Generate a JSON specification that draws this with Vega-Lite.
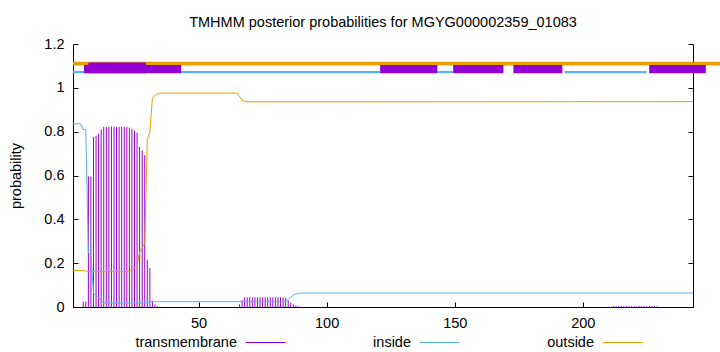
{
  "$schema": "https://vega.github.io/schema/vega-lite/v6.json",
  "width": 620,
  "height": 263,
  "autosize": {"type": "none"},
  "padding": {"left": 73, "top": 44, "right": 27, "bottom": 45},
  "background": "white",
  "config": {
    "view": {"stroke": null},
    "font": "Liberation Sans",
    "axis": {
      "grid": false,
      "domainColor": "#000",
      "domainWidth": 1,
      "tickColor": "#000",
      "tickSize": -5,
      "labelPadding": 14,
      "labelFont": "Liberation Sans",
      "labelFontSize": 14.5,
      "labelColor": "#000",
      "titleFont": "Liberation Sans",
      "titleFontSize": 14.5,
      "titleFontWeight": "normal",
      "titleColor": "#000"
    }
  },
  "title": {
    "text": "TMHMM posterior probabilities for MGYG000002359_01083",
    "font": "Liberation Sans",
    "fontSize": 14.5,
    "fontWeight": "normal",
    "color": "#000",
    "anchor": "middle",
    "frame": "group",
    "baseline": "alphabetic",
    "offset": -5
  },
  "datasets": {
    "topology": [
      {"region": "outside", "start": 1, "end": 253.5},
      {"region": "inside", "start": 1, "end": 5.3},
      {"region": "inside", "start": 43.2, "end": 120.9},
      {"region": "inside", "start": 143.2, "end": 149.4},
      {"region": "inside", "start": 193.0, "end": 224.9},
      {"region": "TM", "start": 5.3, "end": 43.2},
      {"region": "TM", "start": 120.9, "end": 143.2},
      {"region": "TM", "start": 149.4, "end": 169.0},
      {"region": "TM", "start": 172.9, "end": 192.0},
      {"region": "TM", "start": 225.9, "end": 248.0},
      {"region": "TM core", "start": 7.0, "end": 29.5}
    ],
    "tm": [
      {"pos": 5, "p": 0.025}, {"pos": 6, "p": 0.025}, {"pos": 7, "p": 0.595}, {"pos": 8, "p": 0.595},
      {"pos": 9, "p": 0.776}, {"pos": 10, "p": 0.782}, {"pos": 11, "p": 0.79}, {"pos": 12, "p": 0.81},
      {"pos": 13, "p": 0.822}, {"pos": 14, "p": 0.822}, {"pos": 15, "p": 0.822}, {"pos": 16, "p": 0.822},
      {"pos": 17, "p": 0.822}, {"pos": 18, "p": 0.822}, {"pos": 19, "p": 0.822}, {"pos": 20, "p": 0.822},
      {"pos": 21, "p": 0.822}, {"pos": 22, "p": 0.822}, {"pos": 23, "p": 0.818}, {"pos": 24, "p": 0.813},
      {"pos": 25, "p": 0.805}, {"pos": 26, "p": 0.795}, {"pos": 27, "p": 0.73}, {"pos": 28, "p": 0.714},
      {"pos": 29, "p": 0.693}, {"pos": 30, "p": 0.216}, {"pos": 31, "p": 0.178}, {"pos": 32, "p": 0.028},
      {"pos": 33, "p": 0.012}, {"pos": 34, "p": 0.005},
      {"pos": 66, "p": 0.012}, {"pos": 67, "p": 0.032}, {"pos": 68, "p": 0.044}, {"pos": 69, "p": 0.044},
      {"pos": 70, "p": 0.044}, {"pos": 71, "p": 0.044}, {"pos": 72, "p": 0.044}, {"pos": 73, "p": 0.044},
      {"pos": 74, "p": 0.044}, {"pos": 75, "p": 0.044}, {"pos": 76, "p": 0.044}, {"pos": 77, "p": 0.044},
      {"pos": 78, "p": 0.044}, {"pos": 79, "p": 0.044}, {"pos": 80, "p": 0.044}, {"pos": 81, "p": 0.044},
      {"pos": 82, "p": 0.044}, {"pos": 83, "p": 0.043}, {"pos": 84, "p": 0.04}, {"pos": 85, "p": 0.03},
      {"pos": 86, "p": 0.02}, {"pos": 87, "p": 0.012}, {"pos": 88, "p": 0.006}, {"pos": 89, "p": 0.003},
      {"pos": 212, "p": 0.004}, {"pos": 213, "p": 0.004}, {"pos": 214, "p": 0.004}, {"pos": 215, "p": 0.004},
      {"pos": 216, "p": 0.004}, {"pos": 217, "p": 0.004}, {"pos": 218, "p": 0.004}, {"pos": 219, "p": 0.004},
      {"pos": 220, "p": 0.004}, {"pos": 221, "p": 0.004}, {"pos": 222, "p": 0.004}, {"pos": 223, "p": 0.004},
      {"pos": 224, "p": 0.004}, {"pos": 225, "p": 0.004}, {"pos": 226, "p": 0.004}, {"pos": 227, "p": 0.004},
      {"pos": 228, "p": 0.004}, {"pos": 229, "p": 0.004}
    ],
    "inside": [
      {"pos": 1, "p": 0.836}, {"pos": 4, "p": 0.836}, {"pos": 5, "p": 0.81}, {"pos": 6, "p": 0.81},
      {"pos": 7, "p": 0.245}, {"pos": 8, "p": 0.244}, {"pos": 9, "p": 0.062}, {"pos": 10, "p": 0.055},
      {"pos": 11, "p": 0.045}, {"pos": 12, "p": 0.03}, {"pos": 13, "p": 0.018}, {"pos": 29, "p": 0.018},
      {"pos": 31, "p": 0.024}, {"pos": 84, "p": 0.024}, {"pos": 85, "p": 0.035}, {"pos": 86, "p": 0.045},
      {"pos": 87, "p": 0.054}, {"pos": 88, "p": 0.06}, {"pos": 89, "p": 0.063}, {"pos": 90, "p": 0.064},
      {"pos": 243, "p": 0.064}
    ],
    "outside": [
      {"pos": 1, "p": 0.167}, {"pos": 5, "p": 0.166}, {"pos": 6, "p": 0.164}, {"pos": 7, "p": 0.162},
      {"pos": 8, "p": 0.161}, {"pos": 21, "p": 0.161}, {"pos": 22, "p": 0.162}, {"pos": 23, "p": 0.165},
      {"pos": 24, "p": 0.17}, {"pos": 25, "p": 0.178}, {"pos": 26, "p": 0.19}, {"pos": 27, "p": 0.25},
      {"pos": 28, "p": 0.27}, {"pos": 29, "p": 0.29}, {"pos": 30, "p": 0.765}, {"pos": 31, "p": 0.8},
      {"pos": 32, "p": 0.953}, {"pos": 33, "p": 0.966}, {"pos": 34, "p": 0.973}, {"pos": 35, "p": 0.976},
      {"pos": 65, "p": 0.976}, {"pos": 66, "p": 0.96}, {"pos": 67, "p": 0.943}, {"pos": 68, "p": 0.938},
      {"pos": 69, "p": 0.936}, {"pos": 243, "p": 0.937}
    ]
  },
  "layer": [
    {
      "data": {"name": "topology"},
      "transform": [{"filter": "datum.region === 'outside'"}],
      "mark": {"type": "rule", "color": "#e69f00", "strokeWidth": 3.7},
      "encoding": {
        "x": {"field": "start", "type": "quantitative", "title": null,
              "scale": {"domain": [1, 243], "nice": false, "zero": false},
              "axis": {"values": [50, 100, 150, 200], "labelFlush": false}},
        "x2": {"field": "end"},
        "y": {"datum": 1.1103, "type": "quantitative",
              "scale": {"domain": [0, 1.2], "nice": false, "zero": false},
              "axis": {"orient": "left", "values": [0, 0.2, 0.4, 0.6, 0.8, 1, 1.2], "format": "~g",
                       "title": "probability", "titlePadding": 20}}
      }
    },
    {
      "data": {"name": "topology"},
      "transform": [{"filter": "datum.region === 'inside'"}],
      "mark": {"type": "rule", "color": "#56b4e9", "strokeWidth": 2.3},
      "encoding": {
        "x": {"field": "start", "type": "quantitative", "title": null},
        "x2": {"field": "end"},
        "y": {"datum": 1.072, "type": "quantitative", "axis": null}
      }
    },
    {
      "data": {"name": "topology"},
      "transform": [{"filter": "datum.region === 'TM'"}],
      "mark": {"type": "rect", "color": "#9400d3"},
      "encoding": {
        "x": {"field": "start", "type": "quantitative", "title": null},
        "x2": {"field": "end"},
        "y": {"datum": 1.104, "type": "quantitative", "axis": null},
        "y2": {"datum": 1.067}
      }
    },
    {
      "data": {"name": "topology"},
      "transform": [{"filter": "datum.region === 'TM core'"}],
      "mark": {"type": "rect", "color": "#9400d3"},
      "encoding": {
        "x": {"field": "start", "type": "quantitative", "title": null},
        "x2": {"field": "end"},
        "y": {"datum": 1.1155, "type": "quantitative", "axis": null},
        "y2": {"datum": 1.067}
      }
    },
    {
      "data": {"name": "tm"},
      "mark": {"type": "rule", "strokeWidth": 1},
      "encoding": {
        "x": {"field": "pos", "type": "quantitative", "title": null},
        "y": {"field": "p", "type": "quantitative", "title": null, "axis": null},
        "y2": {"datum": 0},
        "color": {
          "datum": "transmembrane", "type": "nominal",
          "scale": {"domain": ["transmembrane", "inside", "outside"], "range": ["#9400d3", "#56b4e9", "#e69f00"]},
          "legend": {
            "orient": "none", "legendX": 172, "legendY": 278, "direction": "horizontal",
            "gridAlign": "none", "columnPadding": 85, "symbolType": "stroke", "symbolSize": 1600,
            "symbolStrokeWidth": 1, "labelAlign": "right", "labelOffset": -49,
            "labelFont": "Liberation Sans", "labelFontSize": 14.5, "labelColor": "#000",
            "labelLimit": 300, "title": null, "padding": 0
          }
        }
      }
    },
    {
      "data": {"name": "inside"},
      "mark": {"type": "line", "strokeWidth": 1},
      "encoding": {
        "x": {"field": "pos", "type": "quantitative", "title": null},
        "y": {"field": "p", "type": "quantitative", "title": null, "axis": null},
        "color": {"datum": "inside", "type": "nominal"}
      }
    },
    {
      "data": {"name": "outside"},
      "mark": {"type": "line", "strokeWidth": 1},
      "encoding": {
        "x": {"field": "pos", "type": "quantitative", "title": null},
        "y": {"field": "p", "type": "quantitative", "title": null,
              "axis": {"orient": "right", "labels": false, "values": [0, 0.2, 0.4, 0.6, 0.8, 1, 1.2]}},
        "color": {"datum": "outside", "type": "nominal"}
      }
    }
  ],
  "resolve": {"scale": {"y": "shared"}, "axis": {"y": "independent"}}
}
